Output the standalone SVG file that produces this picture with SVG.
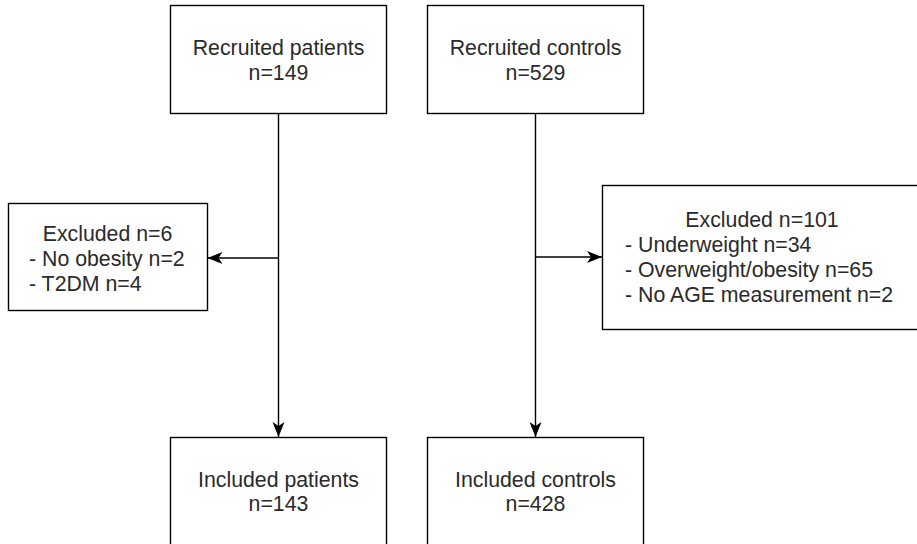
<svg xmlns="http://www.w3.org/2000/svg" width="917" height="544" viewBox="0 0 917 544">
<style>
.box{fill:#fff;stroke:#000;stroke-width:1.4}
.t{font-family:"Liberation Sans",Arial,sans-serif;font-size:21.3px;fill:#2a2a2a}
.c{text-anchor:middle}
.edge{fill:none;stroke:#000;stroke-width:1.4}
</style>
<defs>
<marker id="arr" markerUnits="userSpaceOnUse" markerWidth="16" markerHeight="14" viewBox="0 0 16 14" refX="15" refY="7" orient="auto">
<path d="M0,1 L15,7 L0,13 L4,7 Z" fill="#000"/>
</marker>
</defs>
<rect width="917" height="544" fill="#fff"/>
<g id="connectors">
<path class="edge" d="M278.5,113 L278.5,437" marker-end="url(#arr)"/>
<path class="edge" d="M278.5,258 L207.5,258" marker-end="url(#arr)"/>
<path class="edge" d="M535.5,113 L535.5,437" marker-end="url(#arr)"/>
<path class="edge" d="M535.5,257 L602,257" marker-end="url(#arr)"/>
</g>
<g id="recruited-patients">
<rect class="box" x="170.5" y="5.5" width="216" height="108"/>
<text class="t c" x="278.5" y="55">Recruited patients</text>
<text class="t c" x="278.5" y="80">n=149</text>
</g>
<g id="recruited-controls">
<rect class="box" x="427.5" y="5.5" width="216" height="108"/>
<text class="t c" x="535.5" y="55">Recruited controls</text>
<text class="t c" x="535.5" y="80">n=529</text>
</g>
<g id="excluded-patients">
<rect class="box" x="8.5" y="203.5" width="199" height="107"/>
<text class="t c" x="107.5" y="241">Excluded n=6</text>
<text class="t" x="29" y="265.5">- No obesity n=2</text>
<text class="t" x="29" y="290.5">- T2DM n=4</text>
</g>
<g id="excluded-controls">
<rect class="box" x="602.5" y="185.5" width="320" height="144"/>
<text class="t c" x="762" y="226.5">Excluded n=101</text>
<text class="t" x="625" y="251.5">- Underweight n=34</text>
<text class="t" x="625" y="276.5">- Overweight/obesity n=65</text>
<text class="t" x="625" y="301.5">- No AGE measurement n=2</text>
</g>
<g id="included-patients">
<rect class="box" x="170.5" y="437.5" width="216" height="108"/>
<text class="t c" x="278.5" y="487">Included patients</text>
<text class="t c" x="278.5" y="511">n=143</text>
</g>
<g id="included-controls">
<rect class="box" x="427.5" y="437.5" width="216" height="108"/>
<text class="t c" x="535.5" y="487">Included controls</text>
<text class="t c" x="535.5" y="511">n=428</text>
</g>
</svg>
